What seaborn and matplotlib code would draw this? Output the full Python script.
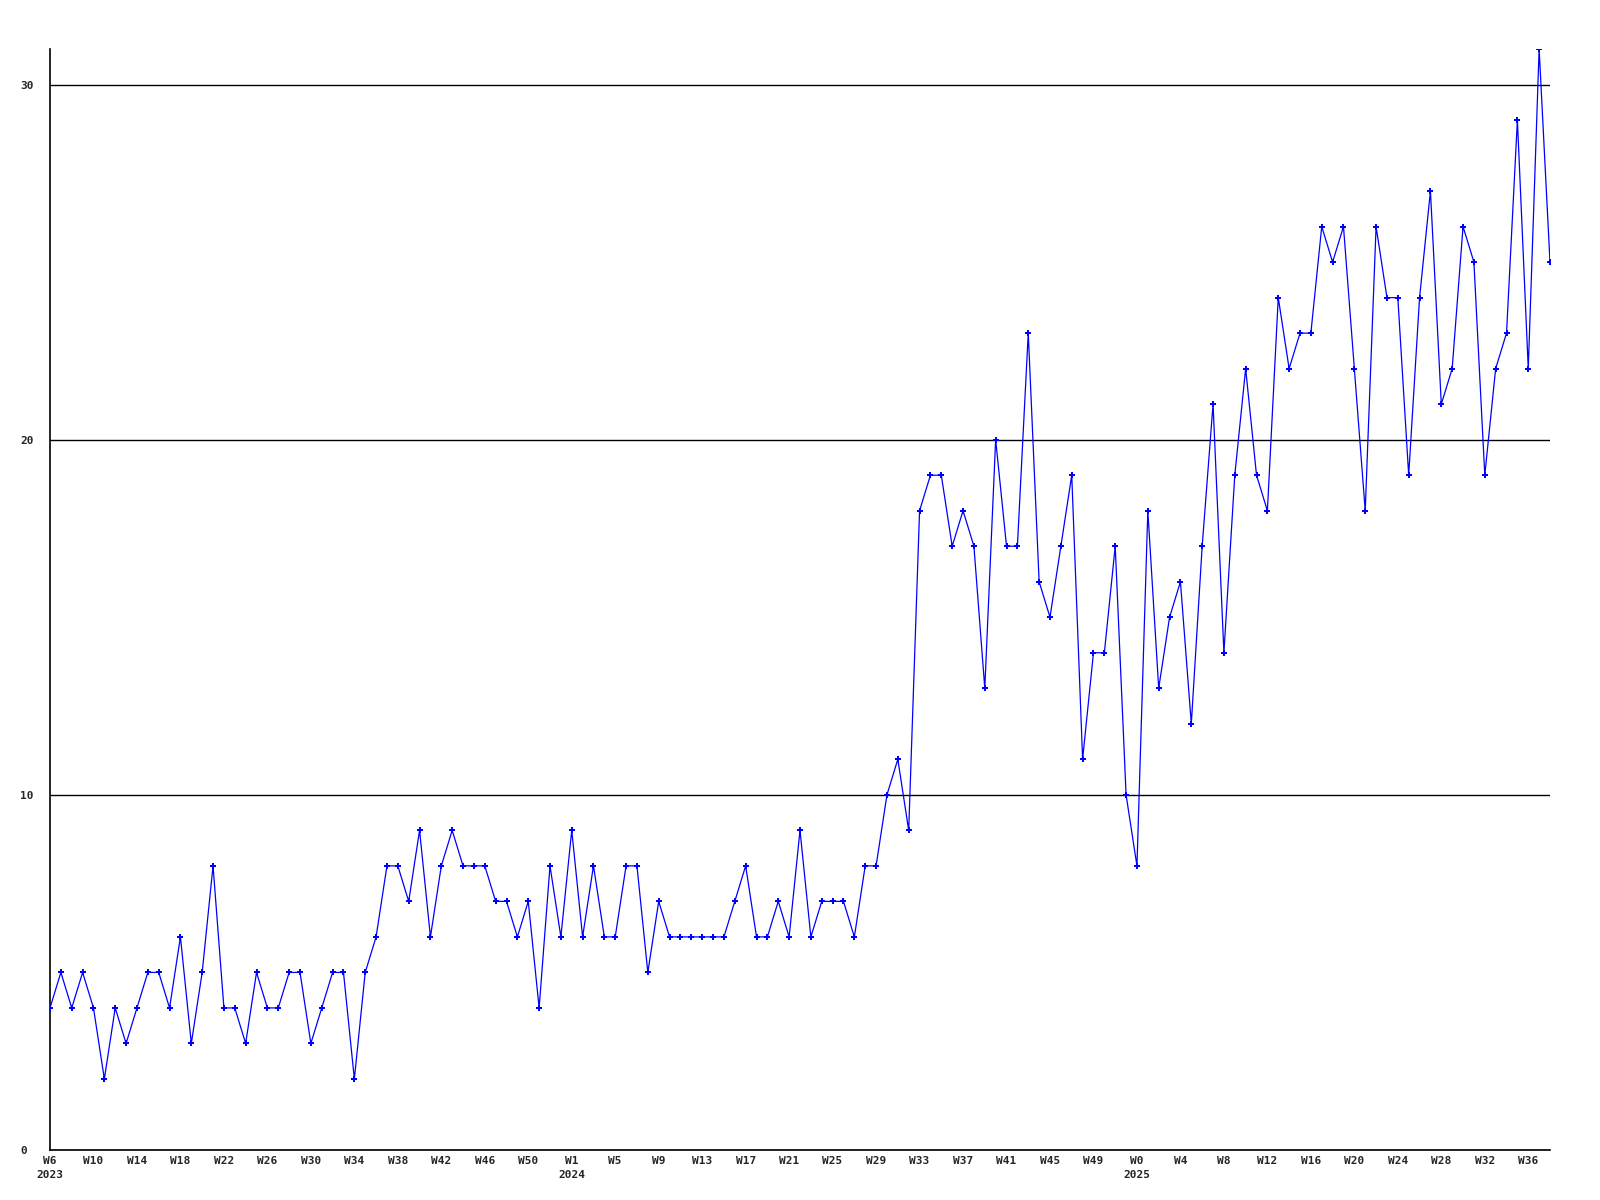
import pandas as pd
import seaborn as sns
import matplotlib.pyplot as plt

# weekly counts, W6 2023 .. W38 2025
values = [
    4, 5, 4, 5, 4, 2, 4, 3, 4, 5, 5, 4, 6, 3, 5, 8, 4, 4, 3, 5, 4, 4, 5, 5, 3, 4, 5, 5, 2, 5, 6, 8, 8,
    7, 9, 6, 8, 9, 8, 8, 8, 7, 7, 6, 7, 4, 8, 6, 9, 6, 8, 6, 6, 8, 8, 5, 7, 6, 6, 6, 6, 6, 6,
    7, 8, 6, 6, 7, 6, 9, 6, 7, 7, 7, 6, 8, 8, 10, 11, 9,
    18, 19, 19, 17, 18, 17, 13, 20, 17, 17, 23, 16, 15, 17, 19, 11, 14, 14, 17, 10, 8, 18, 13, 15, 16, 12,
    17, 21, 14, 19, 22, 19, 18, 24, 22, 23, 23, 26, 25, 26, 22, 18, 26, 24, 24, 19, 24, 27, 21, 22, 26, 25,
    19, 22, 23, 29, 22, 31, 25,
]

tick_labels = [
    "W6\n2023", "W10", "W14", "W18", "W22", "W26", "W30", "W34", "W38", "W42", "W46", "W50",
    "W1\n2024", "W5", "W9", "W13", "W17", "W21", "W25", "W29", "W33", "W37", "W41", "W45", "W49",
    "W0\n2025", "W4", "W8", "W12", "W16", "W20", "W24", "W28", "W32", "W36",
]
y_ticks = [0, 10, 20, 30]

df = pd.DataFrame({"week": range(len(values)), "count": values})

sns.set_style("white")
plt.rcParams["font.family"] = ["DejaVu Sans Mono", "DejaVu Sans"]
plt.rcParams["font.weight"] = "bold"

fig = plt.figure(figsize=(16, 12), dpi=100)
ax = fig.add_axes([50 / 1600, 1 - 1150 / 1200, 1500 / 1600, 1101 / 1200])

sns.lineplot(data=df, x="week", y="count", ax=ax, color="#0000ff", linewidth=0.9,
             marker="P", markersize=4, markeredgewidth=0, zorder=3)

ax.set_xlim(0, len(values) - 1)
ax.set_ylim(0, 31)
ax.set_xticks(range(0, len(values), 4))
ax.set_xticklabels(tick_labels, fontsize=8, fontweight="bold", linespacing=1.5)
ax.set_yticks(y_ticks)
ax.set_yticklabels([str(t) for t in y_ticks], fontsize=8, fontweight="bold")
for lab in ax.get_yticklabels():
    lab.set_horizontalalignment("left")
ax.tick_params(axis="y", length=0, pad=21.6)
ax.tick_params(axis="x", length=0, pad=4.5)

ax.yaxis.grid(True, color="black", linewidth=1)
ax.xaxis.grid(False)
ax.set_axisbelow(True)
ax.set_xlabel("")
ax.set_ylabel("")

for side in ["top", "right"]:
    ax.spines[side].set_visible(False)
for side in ["left", "bottom"]:
    ax.spines[side].set_color("black")
    ax.spines[side].set_linewidth(1.2)

fig.savefig("out.png", dpi=100, facecolor="white")
